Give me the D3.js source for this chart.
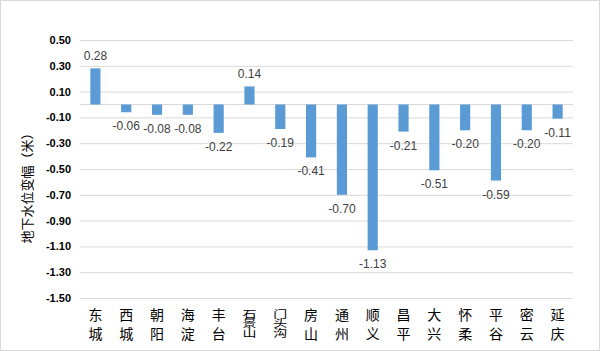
<!DOCTYPE html>
<html>
<head>
<meta charset="utf-8">
<script src="https://cdn.jsdelivr.net/npm/d3@7"></script>
<style>
  body { margin: 0; background: #fff; }
</style>
</head>
<body>
<div id="chart"></div>
<script>
// district names and water level change (m)
var districts = ["东城","西城","朝阳","海淀","丰台","石景山","门头沟","房山","通州","顺义","昌平","大兴","怀柔","平谷","密云","延庆"];
var changes = [0.28, -0.06, -0.08, -0.08, -0.22, 0.14, -0.19, -0.41, -0.70, -1.13, -0.21, -0.51, -0.20, -0.59, -0.20, -0.11];
var yTicks = [0.5, 0.3, 0.1, -0.1, -0.3, -0.5, -0.7, -0.9, -1.1, -1.3, -1.5];
var yTitle = "地下水位变幅（米）";

var width = 600, height = 351;
var margin = {left: 80, right: 27, top: 40, bottom: 53};

var fmt = d => d3.format('.2f')(d).replace('\u2212', '-');

var svg = d3.select('#chart').append('svg')
    .attr('width', width)
    .attr('height', height);

svg.append('rect')
    .attr('x', 0.5).attr('y', 0.5)
    .attr('width', width - 1).attr('height', height - 1)
    .attr('fill', '#fff')
    .attr('stroke', '#d9d9d9');

var xScale = d3.scaleBand()
    .domain(districts)
    .range([margin.left, width - margin.right])
    .paddingInner(0.67)
    .paddingOuter(0.335);

var yScale = d3.scaleLinear()
    .domain([-1.5, 0.5])
    .range([height - margin.bottom, margin.top]);

// gridlines + tick labels
var yAxis = svg.append('g')
    .attr('transform', `translate(${margin.left},0)`)
    .call(d3.axisLeft(yScale)
        .tickValues(yTicks)
        .tickFormat(fmt)
        .tickSize(-(width - margin.left - margin.right))
        .tickPadding(9));
yAxis.select('.domain').remove();
yAxis.selectAll('line').attr('stroke', '#d9d9d9').attr('stroke-width', 1);
yAxis.selectAll('text')
    .attr('fill', '#000')
    .style('font-family', '"Liberation Sans", Arial, sans-serif')
    .style('font-size', '11px')
    .style('font-weight', 'bold');

// zero line
svg.append('line')
    .attr('x1', margin.left).attr('x2', width - margin.right)
    .attr('y1', yScale(0)).attr('y2', yScale(0))
    .attr('stroke', '#d9d9d9');

// bars
svg.append('g').selectAll('rect')
    .data(changes)
    .join('rect')
    .attr('x', (d, i) => xScale(districts[i]))
    .attr('width', xScale.bandwidth())
    .attr('y', d => yScale(Math.max(0, d)))
    .attr('height', d => Math.abs(yScale(d) - yScale(0)))
    .attr('fill', '#5b9bd5');

// value labels
svg.append('g').selectAll('text')
    .data(changes)
    .join('text')
    .attr('x', (d, i) => xScale(districts[i]) + xScale.bandwidth() / 2)
    .attr('y', d => d >= 0 ? yScale(d) - 8 : yScale(d) + 18)
    .attr('text-anchor', 'middle')
    .attr('fill', '#404040')
    .style('font-family', '"Liberation Sans", Arial, sans-serif')
    .style('font-size', '12px')
    .text(fmt);

// category labels, written vertically (3-char names squeezed)
svg.append('g').selectAll('text')
    .data(districts)
    .join('text')
    .attr('transform', d => {
        var cx = xScale(d) + xScale.bandwidth() / 2;
        return d.length > 2
            ? `translate(${cx},309) scale(1,0.7)`
            : `translate(${cx},308)`;
    })
    .style('writing-mode', 'vertical-rl')
    .style('letter-spacing', d => d.length > 2 ? '0px' : '5px')
    .attr('text-anchor', 'start')
    .attr('fill', '#000')
    .style('font-family', '"Noto Sans CJK SC", sans-serif')
    .style('font-size', '14px')
    .text(d => d);

// y axis title
svg.append('text')
    .attr('transform', 'translate(32,185) rotate(-90)')
    .attr('text-anchor', 'middle')
    .attr('fill', '#000')
    .style('font-family', '"Noto Sans CJK SC", sans-serif')
    .style('font-size', '13px')
    .text(yTitle);
</script>
</body>
</html>
